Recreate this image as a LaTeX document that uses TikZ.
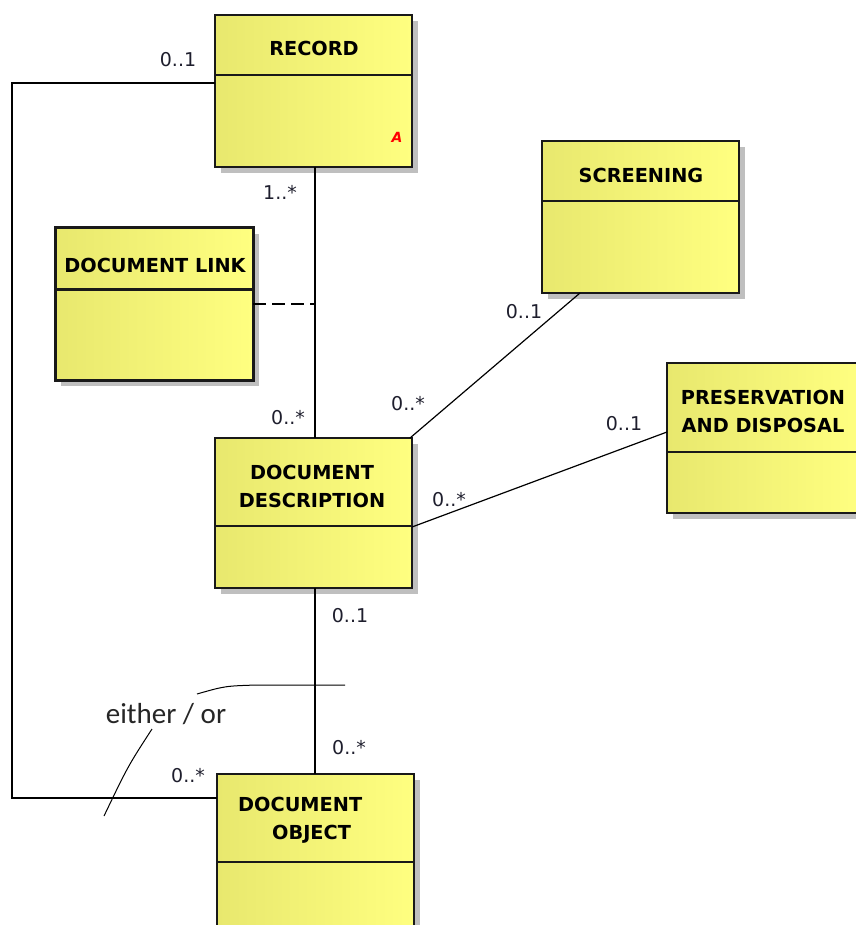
\documentclass[tikz,border=0pt]{standalone}
\usepackage{fontspec}
\setmainfont{DejaVu Sans}
\newfontfamily\notefont{Carlito}
\usetikzlibrary{shadows}

\definecolor{yelL}{RGB}{232,232,110}
\definecolor{yelR}{RGB}{255,255,128}
\definecolor{edge}{RGB}{25,25,25}
\definecolor{multc}{RGB}{30,30,45}

\tikzset{
  umlclass/.style={rectangle, anchor=north west, inner sep=0pt, outer sep=0pt,
    left color=yelL, right color=yelR, draw=edge, line width=1.4pt,
    drop shadow={shadow xshift=6pt, shadow yshift=-6pt, fill=black!25, opacity=1}},
  title/.style={font=\bfseries\fontsize{19.3}{28}\selectfont, align=center, text=black},
  mult/.style={font=\fontsize{19}{22}\selectfont, text=multc, inner sep=0pt},
  assoc/.style={draw=black, line width=1.2pt},
  divider/.style={draw=edge, line width=1.4pt},
}

\begin{document}
\begin{tikzpicture}[x=1pt, y=-1pt]
\useasboundingbox (0,0) rectangle (855,925);

% classes
\node[umlclass, minimum width=197, minimum height=152] (rec) at (215,15) {};
\node[umlclass, minimum width=198, minimum height=152, line width=3pt] (dlink) at (55,228) {};
\node[umlclass, minimum width=197, minimum height=152] (scr) at (542,141) {};
\node[umlclass, minimum width=193, minimum height=150] (pres) at (667,363) {};
\node[umlclass, minimum width=197, minimum height=150] (dd) at (215,438) {};
\node[umlclass, minimum width=197, minimum height=170] (dobj) at (217,774) {};

% compartment dividers
\draw[divider] (rec.west |- 0,75) -- (rec.east |- 0,75);
\draw[divider, line width=3pt] (dlink.west |- 0,289) -- (dlink.east |- 0,289);
\draw[divider] (scr.west |- 0,201) -- (scr.east |- 0,201);
\draw[divider] (pres.west |- 0,452) -- (pres.east |- 0,452);
\draw[divider] (dd.west |- 0,526) -- (dd.east |- 0,526);
\draw[divider] (dobj.west |- 0,862) -- (dobj.east |- 0,862);

% class names
\node[title] (recname) at (314,48) {RECORD};
\node[title] (dlinkname) at (155,265) {DOCUMENT LINK};
\node[title] (scrname) at (641,175) {SCREENING};
\node[title] (presname) at (763,411) {PRESERVATION\\AND DISPOSAL};
\node[title] (ddname) at (312,486) {DOCUMENT\\DESCRIPTION};
\node[title, align=left, anchor=north west, inner sep=0pt] (dobjname) at (238,797)
  {DOCUMENT\\\hspace*{34pt}OBJECT};
\node[text=red, font=\bfseries\itshape\fontsize{14}{15}\selectfont] (abs) at (397,137) {A};

% associations
\draw[assoc] ([yshift=-68pt]rec.north west) -- ++(-203,0) |- ([yshift=-24pt]dobj.north west);
\draw[assoc] (rec.south -| 315,0) -- (dd.north -| 315,0);
\draw[assoc, dash pattern=on 13pt off 6pt] (dlink.east |- 0,304) -- (rec.south |- 0,304);
\draw[assoc] ([xshift=38pt]scr.south west) -- ([xshift=-2pt]dd.north east);
\draw[assoc] ([yshift=6pt]pres.west) -- ([yshift=-14pt]dd.east);
\draw[assoc] (dd.south -| 315,0) -- (dobj.north -| 315,0);

% either / or constraint
\draw[line width=1pt] (197,694) .. controls (225,686) .. (257,685) -- (345,685);
\draw[line width=1pt] (152,729) .. controls (128,766) .. (104,816);
\node[font=\notefont\fontsize{29}{32}\selectfont, text=black!85] (either) at (166,714) {either / or};

% multiplicities
\node[mult] (m1) at (178,60) {0..1};
\node[mult] (m2) at (280,192) {1..*};
\node[mult] (m3) at (288,418) {0..*};
\node[mult] (m4) at (524,312) {0..1};
\node[mult] (m5) at (408,404) {0..*};
\node[mult] (m6) at (624,424) {0..1};
\node[mult] (m7) at (449,500) {0..*};
\node[mult] (m8) at (350,616) {0..1};
\node[mult] (m9) at (349,748) {0..*};
\node[mult] (m10) at (188,776) {0..*};
\end{tikzpicture}
\end{document}
